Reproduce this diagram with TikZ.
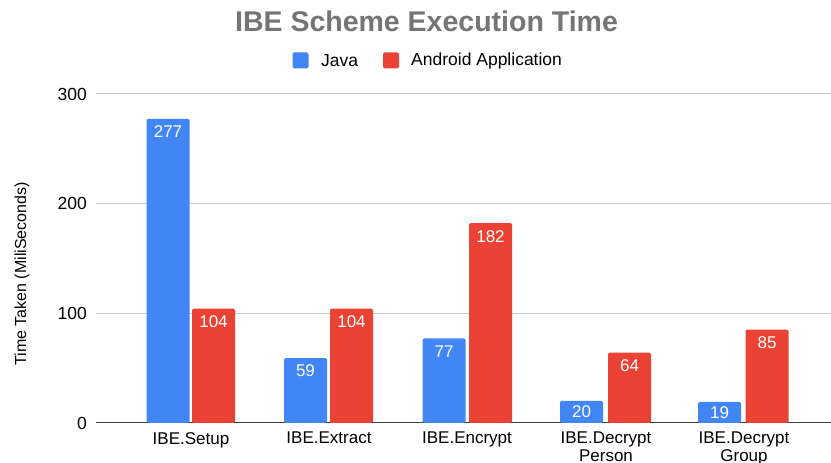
\documentclass[tikz,border=0pt]{standalone}
\usepackage{fontspec}
\setmainfont{Liberation Sans}
\definecolor{javablue}{HTML}{4285F4}
\definecolor{androidred}{HTML}{EA4335}
\definecolor{titlegray}{HTML}{757575}
\definecolor{gridgray}{HTML}{CCCCCC}
\begin{document}
\begin{tikzpicture}[x=1pt, y=1pt,
  bar/.style={rectangle, minimum width=43pt, inner sep=0pt, anchor=south, rounded corners=1.5pt},
  val/.style={anchor=north, text=white, font=\fontsize{17}{19}\selectfont, inner sep=0pt},
  cat/.style={anchor=north, align=center, font=\fontsize{17}{17.5}\selectfont, inner sep=0pt},
  tick/.style={anchor=east, font=\fontsize{17.5}{19}\selectfont, inner sep=0pt},
  key/.style={rectangle, minimum size=16pt, inner sep=0pt, rounded corners=1.5pt},
  grid/.style={draw=gridgray, line width=1pt}
]
\useasboundingbox (0,0) rectangle (831,463);

% Title and legend
\node[font=\bfseries\fontsize{28.5}{31}\selectfont, text=titlegray] (title) at (426.5,442) {IBE Scheme Execution Time};
\node[key, fill=javablue] (kjava) at (300.5,402.5) {};
\node[anchor=west, font=\fontsize{17.5}{19}\selectfont, inner sep=0pt] (ljava) at (321,402.5) {Java};
\node[key, fill=androidred] (kandroid) at (391,402.5) {};
\node[anchor=west, font=\fontsize{17.5}{19}\selectfont, inner sep=0pt] (landroid) at (411,402.5) {Android Application};

% Grid and axis
\draw[grid] (96,369) -- (831,369);
\draw[grid] (96,259.3) -- (831,259.3);
\draw[grid] (96,149.7) -- (831,149.7);
\draw[draw=black!75, line width=1pt] (96,40) -- (831,40);
\node[tick] (t300) at (87,369) {300};
\node[tick] (t200) at (87,259.3) {200};
\node[tick] (t100) at (87,149.7) {100};
\node[tick] (t0) at (87,40) {0};
\node[rotate=90, font=\fontsize{16}{18}\selectfont] (ytitle) at (22,189) {Time Taken (MiliSeconds)};

% Bars: Java
\node[bar, fill=javablue, minimum height=303.8pt] (j1) at (168,40) {};
\node[bar, fill=javablue, minimum height=64.7pt] (j2) at (305.5,40) {};
\node[bar, fill=javablue, minimum height=84.4pt] (j3) at (444,40) {};
\node[bar, fill=javablue, minimum height=21.9pt] (j4) at (581.5,40) {};
\node[bar, fill=javablue, minimum height=20.8pt] (j5) at (719.5,40) {};

% Bars: Android
\node[bar, fill=androidred, minimum height=114.1pt] (a1) at (213.5,40) {};
\node[bar, fill=androidred, minimum height=114.1pt] (a2) at (351.5,40) {};
\node[bar, fill=androidred, minimum height=199.6pt] (a3) at (490.5,40) {};
\node[bar, fill=androidred, minimum height=70.2pt] (a4) at (629.5,40) {};
\node[bar, fill=androidred, minimum height=93.2pt] (a5) at (767,40) {};

% Values
\node[val] (vj1) at ([yshift=-7pt]j1.north) {277};
\node[val] (vj2) at ([yshift=-7pt]j2.north) {59};
\node[val] (vj3) at ([yshift=-7pt]j3.north) {77};
\node[val] (vj4) at ([yshift=-5pt]j4.north) {20};
\node[val] (vj5) at ([yshift=-5pt]j5.north) {19};
\node[val] (va1) at ([yshift=-7pt]a1.north) {104};
\node[val] (va2) at ([yshift=-7pt]a2.north) {104};
\node[val] (va3) at ([yshift=-7pt]a3.north) {182};
\node[val] (va4) at ([yshift=-7pt]a4.north) {64};
\node[val] (va5) at ([yshift=-7pt]a5.north) {85};

% Categories
\node[cat] (c1) at (191,31) {IBE.Setup};
\node[cat] (c2) at (329,31) {IBE.Extract};
\node[cat] (c3) at (467,31) {IBE.Encrypt};
\node[cat] (c4) at (606,31) {IBE.Decrypt\\Person};
\node[cat] (c5) at (744,31) {IBE.Decrypt\\Group};

\end{tikzpicture}
\end{document}
